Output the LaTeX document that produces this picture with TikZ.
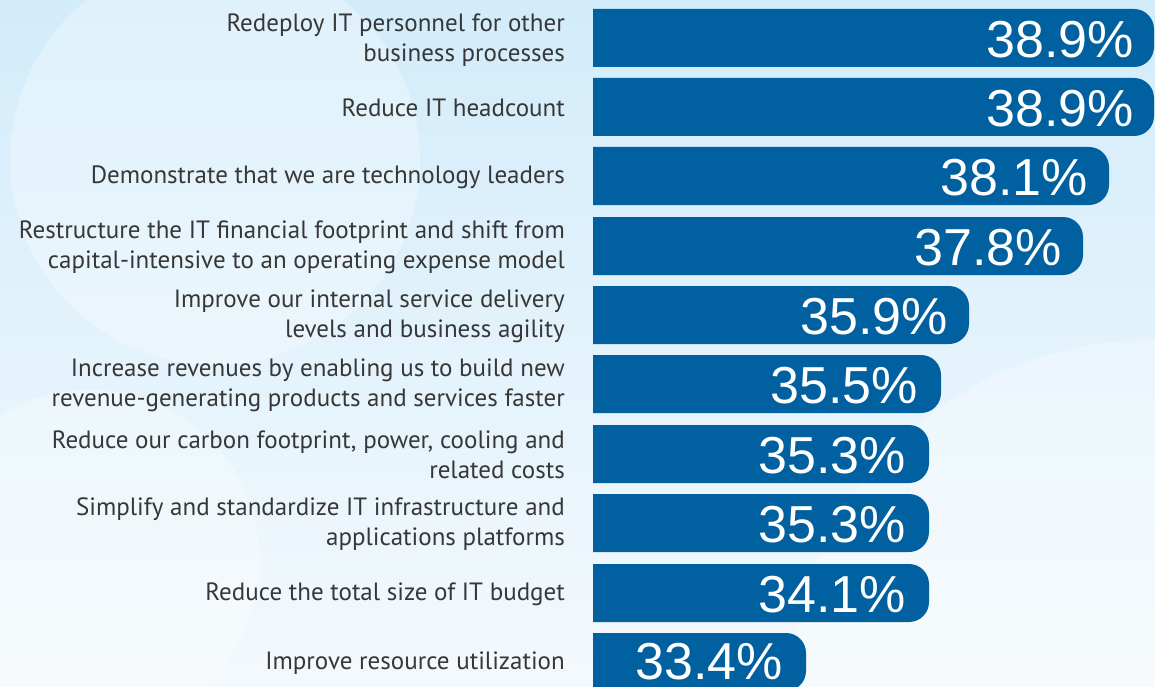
\documentclass[tikz,border=0pt]{standalone}
\usepackage{fontspec}
\setmainfont{PT Sans}
\newfontfamily\numfont{Liberation Sans}
\usetikzlibrary{positioning}
\definecolor{barblue}{RGB}{0,96,160}
\definecolor{labelgray}{RGB}{55,55,55}
\definecolor{skytop}{RGB}{210,236,250}
\definecolor{skybottom}{RGB}{244,249,253}

\begin{document}
\begin{tikzpicture}[x=1pt, y=-1pt,
		bar/.style={fill=barblue},
		cloud/.style={fill=white, opacity=0.3},
		lab/.style={anchor=east, align=right, text=labelgray, inner sep=0pt, font=\fontsize{25}{30}\selectfont},
		val/.style={anchor=east, text=white, inner sep=0pt, font=\numfont\fontsize{52}{52}\selectfont}]
			\clip (0, 0) rectangle (1155, 687);
			
			% sky and clouds
			\shade[top color=skytop, bottom color=skybottom] (0, 0) rectangle (1155, 687);
			\fill[cloud] (215, 160) circle (205);
			\fill[cloud] (90, 560) circle (170);
			\fill[cloud] (1150, 700) circle (360);
			
			% bars
			\fill[bar] (593, 9) [rounded corners=20] -- (1154, 9) -- (1154, 67) [sharp corners] -- (593, 67) -- cycle;
			\fill[bar] (593, 78) [rounded corners=20] -- (1154, 78) -- (1154, 136) [sharp corners] -- (593, 136) -- cycle;
			\fill[bar] (593, 147) [rounded corners=20] -- (1109, 147) -- (1109, 205) [sharp corners] -- (593, 205) -- cycle;
			\fill[bar] (593, 217) [rounded corners=20] -- (1083, 217) -- (1083, 275) [sharp corners] -- (593, 275) -- cycle;
			\fill[bar] (593, 286) [rounded corners=20] -- (969, 286) -- (969, 344) [sharp corners] -- (593, 344) -- cycle;
			\fill[bar] (593, 355) [rounded corners=20] -- (941, 355) -- (941, 413) [sharp corners] -- (593, 413) -- cycle;
			\fill[bar] (593, 425) [rounded corners=20] -- (929, 425) -- (929, 483) [sharp corners] -- (593, 483) -- cycle;
			\fill[bar] (593, 494) [rounded corners=20] -- (929, 494) -- (929, 552) [sharp corners] -- (593, 552) -- cycle;
			\fill[bar] (593, 564) [rounded corners=20] -- (929, 564) -- (929, 622) [sharp corners] -- (593, 622) -- cycle;
			\fill[bar] (593, 633) [rounded corners=20] -- (806, 633) -- (806, 691) [sharp corners] -- (593, 691) -- cycle;
			
			% values
			\node[val] (v1) at (1134, 40) {38.9\%};
			\node[val] (v2) at (1134, 109) {38.9\%};
			\node[val] (v3) at (1088, 178) {38.1\%};
			\node[val] (v4) at (1062, 248) {37.8\%};
			\node[val] (v5) at (948, 317) {35.9\%};
			\node[val] (v6) at (918, 386) {35.5\%};
			\node[val] (v7) at (906, 456) {35.3\%};
			\node[val] (v8) at (906, 525) {35.3\%};
			\node[val] (v9) at (906, 595) {34.1\%};
			\node[val] (v10) at (783, 662) {33.4\%};
			
			% labels
			\node[lab] (l1) at (565, 40) {Redeploy IT personnel for other\\business processes};
			\node[lab] (l2) at (565, 108) {Reduce IT headcount};
			\node[lab] (l3) at (565, 177) {Demonstrate that we are technology leaders};
			\node[lab] (l4) at (565, 247) {Restructure the IT financial footprint and shift from\\capital-intensive to an operating expense model};
			\node[lab] (l5) at (565, 316) {Improve our internal service delivery\\levels and business agility};
			\node[lab] (l6) at (565, 385) {Increase revenues by enabling us to build new\\revenue-generating products and services faster};
			\node[lab] (l7) at (565, 455) {Reduce our carbon footprint, power, cooling and\\related costs};
			\node[lab] (l8) at (565, 524) {Simplify and standardize IT infrastructure and\\applications platforms};
			\node[lab] (l9) at (565, 594) {Reduce the total size of IT budget};
			\node[lab] (l10) at (565, 663) {Improve resource utilization};
			
		\end{tikzpicture}
\end{document}
